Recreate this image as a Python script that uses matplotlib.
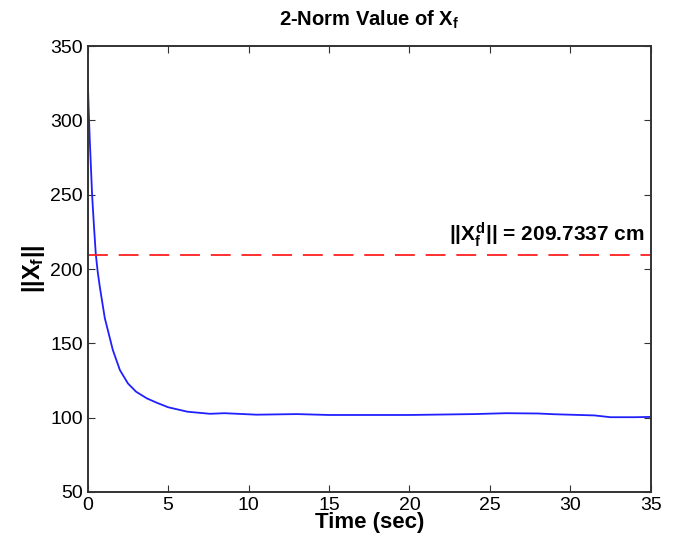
import numpy as np
import matplotlib.pyplot as plt

# values
t = [0.0, 0.06, 0.125, 0.27, 0.38, 0.5, 0.62, 0.75, 1.06, 1.56, 2.0, 2.5,
     3.0, 3.67, 4.3, 5.0, 6.2, 7.6, 8.5, 10.5, 13.0, 15.0, 20.0, 24.0,
     26.0, 28.0, 29.0, 31.5, 32.5, 34.0, 35.0]
norm_x = [327, 307, 287, 250, 230, 210, 198, 188, 167, 145.5, 132, 123,
          117.5, 113, 110, 107, 104, 102.6, 103, 102, 102.4, 101.8, 101.8,
          102.4, 103, 102.8, 102.3, 101.5, 100.3, 100.3, 100.5]
x_desired = 209.7337


def main():
    plt.rcParams['font.family'] = ['Liberation Sans', 'DejaVu Sans']
    plt.rcParams['mathtext.fontset'] = 'custom'
    plt.rcParams['mathtext.rm'] = 'Liberation Sans:bold'
    plt.rcParams['mathtext.it'] = 'Liberation Sans:bold'
    plt.rcParams['mathtext.bf'] = 'Liberation Sans:bold'

    fig = plt.figure(figsize=(6.75, 5.43), dpi=100)
    ax = fig.add_axes([0.130, 0.094, 0.834, 0.821])

    ax.plot(t, norm_x, color='#2020ff', lw=1.3)
    ax.axhline(x_desired, color='#ff2020', lw=1.3, dashes=(11, 6))
    ax.text(34.6, x_desired + 4, r'$||X_f^d||$ = 209.7337 cm', ha='right',
            va='bottom', fontsize=15, fontweight='bold')

    ax.set_xlim(0, 35)
    ax.set_ylim(50, 350)
    ax.set_xticks(np.arange(0, 36, 5))
    ax.set_yticks(np.arange(50, 351, 50))
    ax.tick_params(direction='in', top=True, right=True, length=5,
                   labelsize=14, color='#333333')
    for s in ax.spines.values():
        s.set_linewidth(1.4)
        s.set_color('#333333')

    ax.set_title(r'2-Norm Value of $X_f$', fontsize=14.5, fontweight='bold', pad=15)
    ax.set_xlabel('Time (sec)', fontsize=16, fontweight='bold', labelpad=-1)
    ax.set_ylabel(r'$||X_f||$', fontsize=17, fontweight='bold', labelpad=2)

    fig.savefig('out.png', dpi=100)
    plt.close(fig)


if __name__ == '__main__':
    main()
